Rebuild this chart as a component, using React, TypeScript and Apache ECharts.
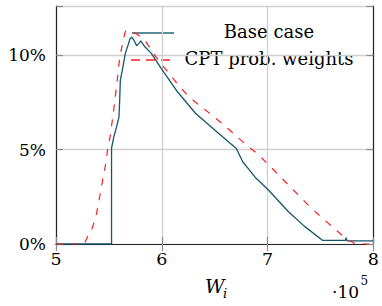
import React, { useEffect, useRef } from "react";
import * as echarts from "echarts";

// x values in units of 1e5, y values in percent
const baseW = [5.0, 5.525, 5.525, 5.546, 5.574, 5.595, 5.602, 5.608, 5.63, 5.655, 5.681, 5.699, 5.716, 5.736, 5.762, 5.782, 5.801, 5.84, 5.901, 5.994, 6.148, 6.318, 6.519, 6.704, 6.766, 6.827, 6.889, 7.012, 7.197, 7.352, 7.521, 7.736, 7.741, 7.75, 8.0];
const basePct = [0, 0, 5.08, 5.66, 6.24, 6.72, 7.62, 8.68, 9.3, 10.09, 10.53, 10.85, 10.95, 10.79, 10.5, 10.61, 10.75, 10.44, 10.09, 9.3, 8.06, 6.92, 5.94, 5.06, 4.34, 3.92, 3.49, 2.83, 1.71, 0.92, 0.19, 0.19, 0.34, 0.17, 0.17];

const cptW = [5.0, 5.269, 5.296, 5.331, 5.352, 5.377, 5.407, 5.438, 5.469, 5.486, 5.514, 5.551, 5.579, 5.597, 5.62, 5.639, 5.657, 5.713, 5.778, 5.852, 5.917, 5.979, 6.148, 6.241, 6.352, 6.463, 6.574, 6.685, 6.787, 6.907, 7.028, 7.197, 7.414, 7.645, 7.753, 7.833, 8.0];
const cptPct = [0, 0, 0.37, 0.65, 1.01, 1.44, 2.33, 3.28, 4.23, 4.92, 5.77, 7.35, 8.68, 9.63, 10.37, 10.9, 11.27, 11.27, 11.06, 10.69, 10.11, 9.65, 8.47, 7.88, 7.35, 6.88, 6.35, 5.82, 5.29, 4.76, 4.09, 3.12, 1.89, 0.74, 0.25, 0, 0];

const xTicks = [5, 6, 7, 8];
const yTicks = [0, 5, 10];
const seriesNames = ["Base case", "CPT prob. weights"];
const xName = "W";
const xNameSub = "i";
const xScaleBase = "·10";
const xScaleExp = "5";

const FONT = "DejaVu Serif";
const BASE_COLOR = "#15566b";
const CPT_COLOR = "#ff1f1f";

export default function App() {
  const ref = useRef<HTMLDivElement>(null);
  useEffect(() => {
    const chart = echarts.init(ref.current!, null, { renderer: "svg" });
    const frameLine = { show: true, lineStyle: { color: "#262626", width: 1.2 } };
    const innerTick = { show: true, inside: true, length: 7, lineStyle: { color: "#8c8c8c", width: 1.2 } };
    const grid = { show: true, lineStyle: { color: "#cfcfcf", width: 1.3 } };
    chart.setOption({
      animation: false,
      textStyle: { fontFamily: FONT },
      grid: { left: 56, top: 6, width: 324, height: 238 },
      xAxis: [
        {
          type: "value", min: 5, max: 8, interval: 1, position: "bottom",
          axisLine: frameLine, axisTick: innerTick, splitLine: grid,
          axisLabel: {
            margin: 6, fontFamily: FONT, fontSize: 17.5, color: "#000",
            formatter: (v: number) => (xTicks.includes(v) ? String(v) : ""),
          },
        },
        {
          type: "value", min: 5, max: 8, interval: 1, position: "top",
          axisLine: frameLine, axisTick: innerTick, splitLine: { show: false }, axisLabel: { show: false },
        },
      ],
      yAxis: [
        {
          type: "value", min: 0, max: 12.6, interval: 5, position: "left",
          axisLine: frameLine, axisTick: innerTick, splitLine: grid,
          axisLabel: {
            margin: 10, fontFamily: FONT, fontSize: 17, color: "#000",
            formatter: (v: number) => (yTicks.includes(v) ? v + "%" : ""),
          },
        },
        {
          type: "value", min: 0, max: 12.6, interval: 5, position: "right",
          axisLine: frameLine, axisTick: innerTick, splitLine: { show: false }, axisLabel: { show: false },
        },
      ],
      series: [
        {
          name: seriesNames[0], type: "line", symbol: "none", xAxisIndex: 0, yAxisIndex: 0,
          data: baseW.map((w, i) => [w, basePct[i]]),
          lineStyle: { color: BASE_COLOR, width: 1.3 },
        },
        {
          name: seriesNames[1], type: "line", symbol: "none", xAxisIndex: 0, yAxisIndex: 0,
          data: cptW.map((w, i) => [w, cptPct[i]]),
          lineStyle: { color: CPT_COLOR, width: 1.2, type: [7, 8] },
        },
      ],
      graphic: [
        { type: "line", shape: { x1: 132, y1: 33, x2: 174, y2: 33 }, style: { stroke: "#5e8c98", lineWidth: 2 } },
        { type: "line", shape: { x1: 131, y1: 60, x2: 170, y2: 60 }, style: { stroke: CPT_COLOR, lineWidth: 1.3, lineDash: [9, 6] } },
        { type: "text", x: 269, y: 31, style: { text: seriesNames[0], fontFamily: FONT, fontSize: 18, fill: "#000", align: "center", verticalAlign: "middle" } },
        { type: "text", x: 269, y: 58, style: { text: seriesNames[1], fontFamily: FONT, fontSize: 18, fill: "#000", align: "center", verticalAlign: "middle" } },
        { type: "text", x: 205, y: 286, style: { text: xName, fontFamily: FONT, fontStyle: "italic", fontSize: 19, fill: "#000", align: "left", verticalAlign: "middle" } },
        { type: "text", x: 223, y: 293.5, style: { text: xNameSub, fontFamily: FONT, fontStyle: "italic", fontSize: 13, fill: "#000", align: "left", verticalAlign: "middle" } },
        { type: "text", x: 332, y: 291.5, style: { text: xScaleBase, fontFamily: FONT, fontSize: 17, fill: "#000", align: "left", verticalAlign: "middle" } },
        { type: "text", x: 360.5, y: 281, style: { text: xScaleExp, fontFamily: FONT, fontSize: 12, fill: "#000", align: "left", verticalAlign: "middle" } },
      ],
    });
    return () => chart.dispose();
  }, []);
  return <div ref={ref} style={{ position: "absolute", left: 0, top: 0, width: 382, height: 306 }} />;
}
